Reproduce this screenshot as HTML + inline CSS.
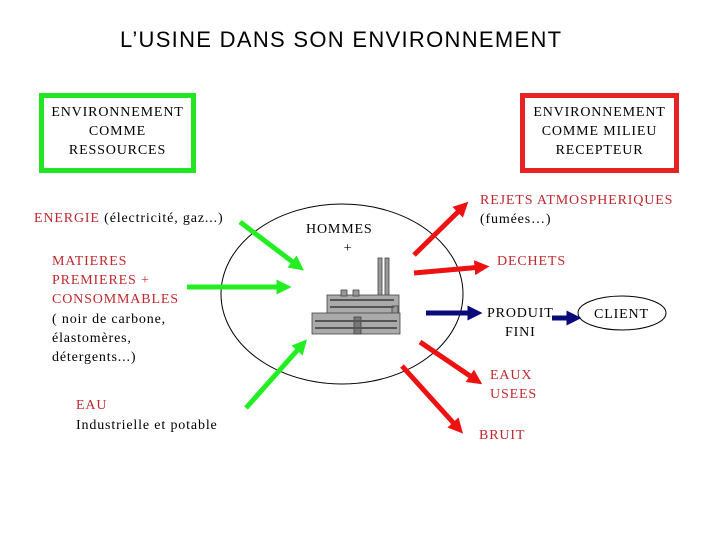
<!DOCTYPE html>
<html><head><meta charset="utf-8"><style>
body{margin:0;width:720px;height:540px;background:#fff;position:relative;overflow:hidden;font-family:"Liberation Serif",serif;}
.t{position:absolute;font-size:14px;line-height:19px;white-space:nowrap;letter-spacing:0.85px;}
.r{color:#c0282d}
.box{position:absolute;box-sizing:border-box;border:5px solid;text-align:center;font-size:14px;line-height:19px;padding-top:5px;letter-spacing:0.85px;}
</style></head><body>
<div class="t" style="left:120px;top:27px;font-family:'Liberation Sans',sans-serif;font-size:22px;line-height:26px;letter-spacing:1.3px;">L’USINE DANS SON ENVIRONNEMENT</div>
<div class="box" style="left:39px;top:93px;width:157px;height:80px;border-color:#22e622;">ENVIRONNEMENT<br>COMME<br>RESSOURCES</div>
<div class="box" style="left:520px;top:93px;width:159px;height:80px;border-color:#e62222;">ENVIRONNEMENT<br>COMME MILIEU<br>RECEPTEUR</div>
<div class="t" style="left:34px;top:209px;"><span class="r">ENERGIE</span> (électricité, gaz...)</div>
<div class="t r" style="left:52px;top:252px;">MATIERES<br>PREMIERES +<br>CONSOMMABLES</div>
<div class="t" style="left:52px;top:310px;">( noir de carbone,<br>élastomères,<br>détergents...)</div>
<div class="t r" style="left:76px;top:396px;">EAU</div>
<div class="t" style="left:76px;top:416px;">Industrielle et potable</div>
<div class="t" style="left:306px;top:220px;text-align:center;">HOMMES<br>&nbsp;&nbsp;&nbsp;&nbsp;+</div>
<div class="t" style="left:480px;top:191px;"><span class="r">REJETS ATMOSPHERIQUES</span><br>(fumées…)</div>
<div class="t r" style="left:497px;top:252px;">DECHETS</div>
<div class="t" style="left:487px;top:304px;text-align:center;">PRODUIT<br>FINI</div>
<div class="t" style="left:594px;top:305px;">CLIENT</div>
<div class="t r" style="left:490px;top:366px;">EAUX<br>USEES</div>
<div class="t r" style="left:479px;top:426px;">BRUIT</div>
<svg width="720" height="540" style="position:absolute;left:0;top:0">
<defs>
<marker id="g" markerWidth="3" markerHeight="3" refX="1.5" refY="1.5" orient="auto"><path d="M0,0L3,1.5L0,3z" fill="#22ee22"/></marker>
<marker id="rd" markerWidth="3" markerHeight="3" refX="1.5" refY="1.5" orient="auto"><path d="M0,0L3,1.5L0,3z" fill="#ee1111"/></marker>
<marker id="b" markerWidth="3" markerHeight="3" refX="1.5" refY="1.5" orient="auto"><path d="M0,0L3,1.5L0,3z" fill="#0a0a7a"/></marker>
</defs>
<ellipse cx="342" cy="294" rx="121" ry="90" fill="none" stroke="#000" stroke-width="1"/>
<ellipse cx="622" cy="313" rx="44" ry="17" fill="none" stroke="#000" stroke-width="1"/>
<g stroke-width="5" fill="none">
<line x1="240" y1="222" x2="298" y2="266" stroke="#22ee22" marker-end="url(#g)"/>
<line x1="187" y1="287" x2="284" y2="287" stroke="#22ee22" marker-end="url(#g)"/>
<line x1="246" y1="408" x2="302" y2="345" stroke="#22ee22" marker-end="url(#g)"/>
<line x1="414" y1="255" x2="463" y2="207" stroke="#ee1111" marker-end="url(#rd)"/>
<line x1="414" y1="273" x2="482" y2="267" stroke="#ee1111" marker-end="url(#rd)"/>
<line x1="420" y1="342" x2="476" y2="380" stroke="#ee1111" marker-end="url(#rd)"/>
<line x1="402" y1="366" x2="458" y2="428" stroke="#ee1111" marker-end="url(#rd)"/>
<line x1="426" y1="313" x2="475" y2="313" stroke="#0a0a7a" marker-end="url(#b)"/>
<line x1="552" y1="318" x2="574" y2="318" stroke="#0a0a7a" marker-end="url(#b)"/>
</g>
<g stroke="#444" stroke-width="0.8">
<rect x="378" y="258" width="4" height="40" fill="#999"/>
<rect x="385" y="258" width="4" height="40" fill="#999"/>
<rect x="327" y="295" width="72" height="20" fill="#aaa"/>
<rect x="341" y="290" width="6" height="6" fill="#999"/>
<rect x="353" y="290" width="6" height="6" fill="#999"/>
<rect x="392" y="306" width="6" height="10" fill="#999"/>
<rect x="312" y="313" width="88" height="21" fill="#aaa"/>
<rect x="354" y="317" width="7" height="17" fill="#777"/>
</g>
<g fill="#555">
<rect x="330" y="299" width="64" height="2"/><rect x="330" y="306" width="64" height="2"/>
<rect x="315" y="320" width="82" height="2"/><rect x="315" y="327" width="82" height="2"/>
</g>
</svg>
</body></html>
